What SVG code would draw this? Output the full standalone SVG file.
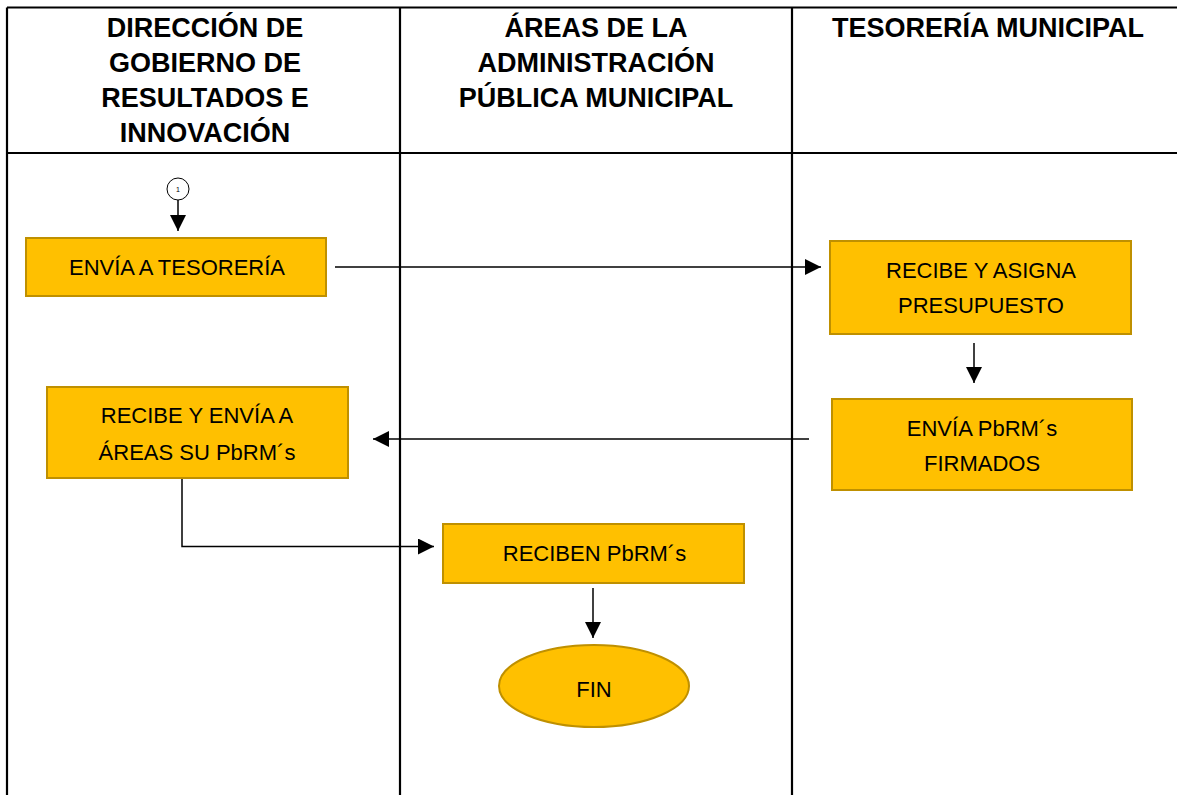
<svg xmlns="http://www.w3.org/2000/svg" width="1177" height="795" viewBox="0 0 1177 795">
<style>
.grid{stroke:#000;stroke-width:2.2;fill:none}
.hdr{font-family:"Liberation Sans",Arial,sans-serif;font-weight:bold;font-size:27px;fill:#000;text-anchor:middle}
.box{fill:#FFC000;stroke:#BF9000;stroke-width:2}
.lbl{font-family:"Liberation Sans",Arial,sans-serif;font-size:22px;fill:#000;text-anchor:middle}
.con{stroke:#000;stroke-width:1.5;fill:none}
</style>
<defs>
<marker id="ah" markerUnits="userSpaceOnUse" markerWidth="16" markerHeight="16" refX="16" refY="8" orient="auto">
<path d="M0,0 L16,8 L0,16 Z" fill="#000"/>
</marker>
</defs>
<rect width="1177" height="795" fill="#fff"/>
<g id="table">
<line class="grid" x1="7" y1="7.5" x2="1177" y2="7.5"/>
<line class="grid" x1="7" y1="153" x2="1177" y2="153"/>
<line class="grid" x1="7" y1="7.5" x2="7" y2="795"/>
<line class="grid" x1="400" y1="7.5" x2="400" y2="795"/>
<line class="grid" x1="792" y1="7.5" x2="792" y2="795"/>
</g>
<g id="headers">
<text class="hdr" x="205" y="37">DIRECCIÓN DE</text>
<text class="hdr" x="205" y="72">GOBIERNO DE</text>
<text class="hdr" x="205" y="107">RESULTADOS E</text>
<text class="hdr" x="205" y="142">INNOVACIÓN</text>
<text class="hdr" x="596" y="37">ÁREAS DE LA</text>
<text class="hdr" x="596" y="72">ADMINISTRACIÓN</text>
<text class="hdr" x="596" y="107">PÚBLICA MUNICIPAL</text>
<text class="hdr" x="988" y="37">TESORERÍA MUNICIPAL</text>
</g>
<g id="connectors">
<line class="con" x1="178" y1="200" x2="178" y2="231" marker-end="url(#ah)"/>
<line class="con" x1="335" y1="267" x2="821" y2="267" marker-end="url(#ah)"/>
<line class="con" x1="974" y1="343" x2="974" y2="383" marker-end="url(#ah)"/>
<line class="con" x1="809" y1="439" x2="373" y2="439" marker-end="url(#ah)"/>
<polyline class="con" points="182,478 182,546.5 434,546.5" marker-end="url(#ah)"/>
<line class="con" x1="593" y1="588" x2="593" y2="638" marker-end="url(#ah)"/>
</g>
<g id="connector1">
<circle cx="178" cy="189" r="11" fill="#fff" stroke="#000" stroke-width="1"/>
<text x="178" y="191.5" font-family="Liberation Sans,Arial,sans-serif" font-size="7" fill="#000" text-anchor="middle">1</text>
</g>
<g id="n1">
<rect class="box" x="26" y="238" width="300" height="58"/>
<text class="lbl" x="177" y="275">ENVÍA A TESORERÍA</text>
</g>
<g id="n2">
<rect class="box" x="830" y="241" width="301" height="93"/>
<text class="lbl" x="981" y="278">RECIBE Y ASIGNA</text>
<text class="lbl" x="981" y="313">PRESUPUESTO</text>
</g>
<g id="n3">
<rect class="box" x="832" y="399" width="300" height="91"/>
<text class="lbl" x="982" y="436">ENVÍA PbRM´s</text>
<text class="lbl" x="982" y="471">FIRMADOS</text>
</g>
<g id="n4">
<rect class="box" x="47" y="387" width="301" height="91"/>
<text class="lbl" x="197" y="423">RECIBE Y ENVÍA A</text>
<text class="lbl" x="197" y="460">ÁREAS SU PbRM´s</text>
</g>
<g id="n5">
<rect class="box" x="443" y="524" width="301" height="59"/>
<text class="lbl" x="594.5" y="561">RECIBEN PbRM´s</text>
</g>
<g id="fin">
<ellipse class="box" cx="594" cy="686" rx="95" ry="41"/>
<text class="lbl" x="594" y="697" font-size="26">FIN</text>
</g>
</svg>
